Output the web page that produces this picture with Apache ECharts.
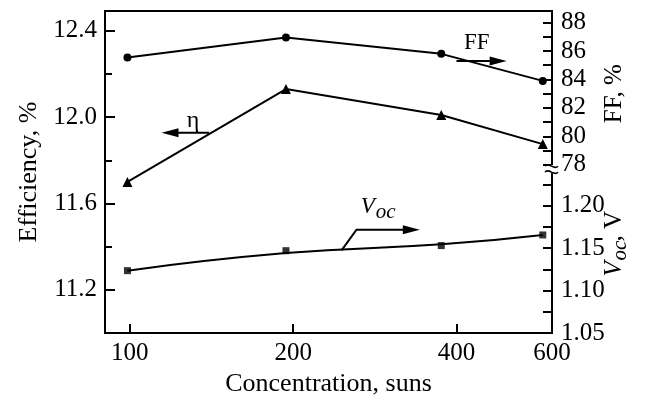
<!DOCTYPE html>
<html>
<head>
<meta charset="utf-8">
<script src="https://cdn.jsdelivr.net/npm/echarts@6.0.0/dist/echarts.min.js"></script>
<style>
html, body { margin: 0; padding: 0; background: #fff; }
#chart { width: 650px; height: 402px; }
</style>
</head>
<body>
<div id="chart"></div>
<script>
// measured values
const concentration = [99, 194, 375, 577];
const efficiency = [11.70, 12.13, 12.01, 11.875];
const fillFactor = [85.55, 86.95, 85.8, 83.9];
const vocPoints = [1.1235, 1.147, 1.153, 1.1655];
const vocFit = [1.1235, 1.1442, 1.1545, 1.1655];

// axis ticks / labels
const xTicks = [100, 200, 400, 600];
const effLabels = [11.2, 11.6, 12.0, 12.4];
const effMinor = [11.4, 11.8, 12.2];
const ffTicks = [78, 79, 80, 81, 82, 83, 84, 85, 86, 87, 88];
const ffLabels = [78, 80, 82, 84, 86, 88];
const vocTicks = [1.05, 1.075, 1.1, 1.125, 1.15, 1.175, 1.2, 1.225];
const vocLabels = [1.05, 1.10, 1.15, 1.20];

// annotations, in data coordinates
const ffArrow = [[400, 85.3], [495, 85.3]];
const ffText = [436, 86.57];
const etaArrow = [[140, 11.928], [114.4, 11.928]];
const etaText = [130.8, 11.985];
const vocArrow = [[245.6, 1.1473], [261.7, 1.1717], [342.4, 1.1717]];
const vocText = [266.6, 1.1849];
const ffNameAt = 83;
const vocNameAt = 1.153;
const breakAt = 1.243;

const FONT = 'Liberation Serif';

function pairs(values) {
  return concentration.map((c, i) => [c, values[i]]);
}

const chart = echarts.init(document.getElementById('chart'));

const tickStyle = { color: '#000', width: 2 };
const labelStyle = { fontFamily: FONT, fontSize: 25, color: '#000' };

chart.setOption({
  animation: false,
  textStyle: { fontFamily: FONT, color: '#000' },
  grid: {
    left: 105, right: 98, top: 11, bottom: 65,
    show: true, borderColor: '#000', borderWidth: 2
  },
  xAxis: {
    type: 'log', min: 90, max: 600, logBase: 10,
    axisLine: { show: false },
    axisTick: { inside: true, length: 9, customValues: xTicks, lineStyle: tickStyle },
    axisLabel: Object.assign({ customValues: xTicks, margin: 8 }, labelStyle),
    splitLine: { show: false },
    name: 'Concentration, suns', nameLocation: 'middle', nameGap: 37,
    nameTextStyle: { fontFamily: FONT, fontSize: 26, color: '#000' }
  },
  yAxis: [
    {
      type: 'value', position: 'left', min: 11.0, max: 12.4913,
      axisLine: { show: false },
      axisTick: { inside: true, length: 10, customValues: effLabels, lineStyle: tickStyle },
      axisLabel: Object.assign({ customValues: effLabels, margin: 8, formatter: v => v.toFixed(1) }, labelStyle),
      splitLine: { show: false },
      name: 'Efficiency, %', nameLocation: 'middle', nameGap: 62, nameRotate: 90,
      nameTextStyle: { fontFamily: FONT, fontSize: 26, color: '#000' }
    },
    {
      type: 'value', position: 'left', min: 11.0, max: 12.4913,
      axisLine: { show: false },
      axisTick: { inside: true, length: 7, customValues: effMinor, lineStyle: tickStyle },
      axisLabel: { show: false },
      splitLine: { show: false }
    },
    {
      type: 'value', position: 'right', min: 66.174, max: 88.8125,
      axisLine: { show: false },
      axisTick: { inside: true, length: 9, customValues: ffTicks, lineStyle: tickStyle },
      axisLabel: Object.assign({ customValues: ffLabels, margin: 9 }, labelStyle),
      splitLine: { show: false }
    },
    {
      type: 'value', position: 'right', min: 1.05, max: 1.4291,
      axisLine: { show: false },
      axisTick: { inside: true, length: 9, customValues: vocTicks, lineStyle: tickStyle },
      axisLabel: Object.assign({ customValues: vocLabels, margin: 9, formatter: v => v.toFixed(2) }, labelStyle),
      splitLine: { show: false }
    }
  ],
  series: [
    {
      name: 'FF', type: 'line', yAxisIndex: 2, data: pairs(fillFactor),
      symbol: 'circle', symbolSize: 8,
      lineStyle: { color: '#000', width: 2 }, itemStyle: { color: '#000' }
    },
    {
      name: 'eta', type: 'line', yAxisIndex: 0, data: pairs(efficiency),
      symbol: 'triangle', symbolSize: 10,
      lineStyle: { color: '#000', width: 2 }, itemStyle: { color: '#000' }
    },
    {
      name: 'Voc fit', type: 'line', yAxisIndex: 3, data: pairs(vocFit),
      smooth: true, showSymbol: false,
      lineStyle: { color: '#000', width: 2 }
    },
    {
      name: 'Voc', type: 'scatter', yAxisIndex: 3, data: pairs(vocPoints),
      symbol: 'rect', symbolSize: 7, itemStyle: { color: '#000' }, z: 3
    }
  ]
});

// annotations placed through the axes
function P(yAxisIndex, pt) {
  return chart.convertToPixel({ xAxisIndex: 0, yAxisIndex: yAxisIndex }, pt);
}

function arrow(points, dir) {
  const tip = points[points.length - 1];
  const shaft = points.slice(0, -1).concat([[tip[0] - dir * 12, tip[1]]]);
  return [
    { type: 'polyline', shape: { points: shaft }, style: { stroke: '#000', lineWidth: 2, fill: null }, z: 50 },
    {
      type: 'polygon',
      shape: { points: [tip, [tip[0] - dir * 17, tip[1] - 4.5], [tip[0] - dir * 17, tip[1] + 4.5]] },
      style: { fill: '#000' }, z: 50
    }
  ];
}

const ffA = ffArrow.map(p => P(2, p));
const etaA = etaArrow.map(p => P(0, p));
const vocA = vocArrow.map(p => P(3, p));
const ffT = P(2, ffText);
const etaT = P(0, etaText);
const vocT = P(3, vocText);
const brk = P(3, [600, breakAt]);
const ffName = P(2, [600, ffNameAt]);
const vocName = P(3, [600, vocNameAt]);

const graphics = [];
graphics.push.apply(graphics, arrow(ffA, 1));
graphics.push.apply(graphics, arrow(etaA, -1));
graphics.push.apply(graphics, arrow(vocA, 1));

graphics.push({
  type: 'text', x: ffT[0], y: ffT[1], z: 50,
  style: { text: 'FF', font: '23px "Liberation Serif"', fill: '#000', align: 'center', verticalAlign: 'middle' }
});
graphics.push({
  type: 'text', x: etaT[0], y: etaT[1], z: 50,
  style: { text: 'η', font: '24px "Liberation Serif"', fill: '#000', align: 'center', verticalAlign: 'middle' }
});
graphics.push({
  type: 'group', x: vocT[0], y: vocT[1], z: 50,
  children: [
    { type: 'text', x: 0, y: 0, style: { text: 'V', font: 'italic 23px "Liberation Serif"', fill: '#000', align: 'left', verticalAlign: 'bottom' } },
    { type: 'text', x: 15, y: 5, style: { text: 'oc', font: 'italic 21px "Liberation Serif"', fill: '#000', align: 'left', verticalAlign: 'bottom' } }
  ]
});

// axis break on the right
graphics.push({
  type: 'rect', z: 60,
  shape: { x: brk[0] - 4, y: brk[1] - 4, width: 8, height: 8 },
  style: { fill: '#fff' }
});
[-3, 3].forEach(function (dy) {
  const y = brk[1] + dy;
  graphics.push({
    type: 'bezierCurve', z: 61,
    shape: { x1: brk[0] - 7, y1: y, x2: brk[0] + 6, y2: y, cpx1: brk[0] - 3, cpy1: y - 5, cpx2: brk[0] + 2, cpy2: y + 5 },
    style: { stroke: '#000', lineWidth: 1.5, fill: null }
  });
});

// right axis names
graphics.push({
  type: 'text', x: ffName[0] + 62, y: ffName[1], rotation: Math.PI / 2, z: 50,
  style: { text: 'FF, %', font: '25px "Liberation Serif"', fill: '#000', align: 'center', verticalAlign: 'middle' }
});
graphics.push({
  type: 'group', x: vocName[0] + 62, y: vocName[1] + 31, rotation: Math.PI / 2, z: 50,
  children: [
    { type: 'text', x: 0, y: 0, style: { text: 'V', font: 'italic 25px "Liberation Serif"', fill: '#000', align: 'left', verticalAlign: 'middle' } },
    { type: 'text', x: 16, y: 6, style: { text: 'oc', font: 'italic 21px "Liberation Serif"', fill: '#000', align: 'left', verticalAlign: 'middle' } },
    { type: 'text', x: 35, y: 0, style: { text: ', V', font: '25px "Liberation Serif"', fill: '#000', align: 'left', verticalAlign: 'middle' } }
  ]
});

chart.setOption({ graphic: graphics });
</script>
</body>
</html>
